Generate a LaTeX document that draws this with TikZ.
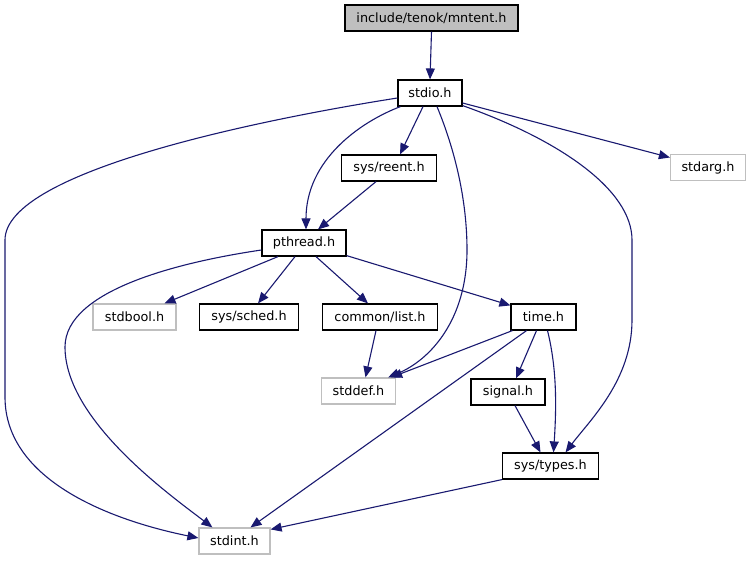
\documentclass[tikz,border=0pt]{standalone}
\usepackage{fontspec}
\setmainfont{DejaVu Sans}
\usetikzlibrary{arrows.meta,calc}
\definecolor{edgec}{HTML}{191970}
\definecolor{greyext}{HTML}{BFBFBF}
\begin{document}
\begin{tikzpicture}[x=1pt,y=-1pt,
  every node/.style={font=\fontsize{12.8}{15}\selectfont, inner sep=0pt, align=center},
  doc/.style={draw=black, line width=1.2pt, fill=white, minimum height=26pt},
  ext/.style={draw=greyext, line width=1.2pt, fill=white, minimum height=26pt},
  rootbox/.style={draw=black, line width=1.2pt, fill=greyext, minimum height=26pt},
  dep/.style={draw=edgec, line width=1.1pt, -{Triangle[length=11pt,width=9pt]}}]
\fill[white] (0,0) rectangle (751,560);
\useasboundingbox (0,0) rectangle (751,560);

\node[rootbox, minimum width=173pt] (root) at (431.5,18) {include/tenok/mntent.h};
\node[doc, minimum width=64pt] (stdio) at (430,93) {stdio.h};
\node[ext, minimum width=75pt] (stdarg) at (708,167.5) {stdarg.h};
\node[doc, minimum width=95pt] (reent) at (389,168) {sys/reent.h};
\node[doc, minimum width=84pt] (pthread) at (304,243) {pthread.h};
\node[ext, minimum width=83pt] (stdbool) at (134.5,317) {stdbool.h};
\node[doc, minimum width=99pt] (sched) at (249,317) {sys/sched.h};
\node[doc, minimum width=115pt] (list) at (380,317) {common/list.h};
\node[doc, minimum width=65pt] (time) at (543.5,317) {time.h};
\node[ext, minimum width=74pt] (stddef) at (358.5,391) {stddef.h};
\node[doc, minimum width=74pt] (signal) at (508,392) {signal.h};
\node[doc, minimum width=96pt] (types) at (550.5,466) {sys/types.h};
\node[ext, minimum width=71pt] (stdint) at (234.5,541) {stdint.h};

% edges
\draw[dep] (root.south) -- (stdio.north);
\draw[dep] ($(stdio.west)+(0,5)$) .. controls (270,118) and (5,170) .. (5,240)
  -- (5,397) .. controls (5,480) and (110,520) .. ($(stdint.west)+(0,-3)$);
\draw[dep] ($(stdio.south west)+(3,0)$) .. controls (360,122) and (306,160) .. ($(pthread.north)+(2,0)$);
\draw[dep] ($(stdio.south)+(-7,0)$) -- ($(reent.north)+(11,0)$);
\draw[dep] ($(stdio.south)+(7,0)$) .. controls (455,150) and (467,200) .. (467,250)
  .. controls (467,320) and (430,360) .. ($(stddef.north east)+(-8,0)$);
\draw[dep] ($(stdio.east)+(0,10)$) -- ($(stdarg.west)+(0,-10)$);
\draw[dep] ($(stdio.south east)+(0,-1)$) .. controls (560,140) and (632,190) .. (632,240)
  -- (632,320) .. controls (632,380) and (590,420) .. ($(types.north)+(15,0)$);
\draw[dep] ($(reent.south)+(-13,0)$) -- ($(pthread.north)+(14,0)$);
\draw[dep] ($(pthread.west)+(0,7)$) .. controls (180,262) and (65,290) .. (65,347)
  .. controls (65,420) and (170,495) .. ($(stdint.north west)+(14,0)$);
\draw[dep] ($(pthread.south)+(-26,0)$) -- ($(stdbool.north)+(30,0)$);
\draw[dep] ($(pthread.south)+(-9,0)$) -- ($(sched.north)+(9,0)$);
\draw[dep] ($(pthread.south)+(12,0)$) -- ($(list.north)+(-12,0)$);
\draw[dep] ($(pthread.south east)+(0,-1)$) -- ($(time.north west)+(0,2)$);
\draw[dep] ($(list.south)+(-4,0)$) -- ($(stddef.north)+(7,0)$);
\draw[dep] ($(time.south west)+(2,0)$) -- ($(stddef.north east)+(-5,0)$);
\draw[dep] ($(time.south)+(-17,0)$) -- ($(stdint.north)+(16,0)$);
\draw[dep] ($(time.south)+(-7,0)$) -- ($(signal.north)+(8,0)$);
\draw[dep] ($(time.south)+(4,0)$) .. controls (556,365) and (557,400) .. ($(types.north)+(3,0)$);
\draw[dep] ($(signal.south)+(7,0)$) -- ($(types.north)+(-10,0)$);
\draw[dep] (types.south west) -- ($(stdint.north east)+(0,2)$);
\end{tikzpicture}
\end{document}
